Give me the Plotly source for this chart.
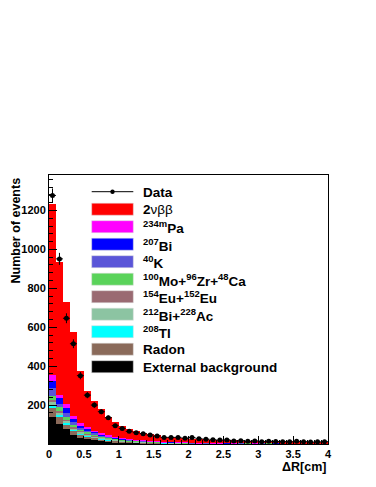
import numpy as np
import plotly.graph_objects as go

# Delta R bins, width 0.1 cm, 0..4 cm
bin_width = 0.1
dr_centers = np.round(np.arange(40) * bin_width + bin_width / 2, 3)

data_counts = [1277, 951, 646, 515, 351, 251, 200, 166, 135, 94,
               80, 65, 58, 53, 46, 41, 34, 34, 34, 30,
               33, 27, 25, 22, 20, 21, 15, 17, 14, 16,
               12, 14, 13, 12, 11, 14, 12, 10, 11, 12]

twonu = [876, 681, 527, 431, 265, 186, 152, 123, 92, 76,
         60, 53, 45, 39, 35, 30, 27, 23, 23, 21,
         21, 20, 18, 17, 16, 16, 15, 14, 13, 13,
         12, 12, 11, 10, 11, 10, 10, 10, 10, 8]
pa234m = [34, 20, 17, 17, 17, 8, 6, 5, 4, 3, 3, 3, 2, 2, 1, 1, 1, 1, 1, 1,
          1, 1, 0, 1, 1, 0, 1, 0, 0, 1, 0, 0, 0, 1, 0, 1, 0, 0, 0, 1]
bi207 = [37, 26, 25, 12, 9, 7, 5, 4, 3, 2, 2, 1, 1, 1, 1, 1, 0, 1, 0, 1,
         0, 0, 0, 0, 0, 1, 0, 0, 0, 0, 0, 0, 1, 0, 0, 0, 0, 0, 0, 0]
k40 = [40, 20, 20, 15, 8, 7, 6, 5, 4, 3, 3, 2, 2, 1, 1, 1, 1, 1, 1, 1,
       1, 0, 1, 0, 1, 0, 0, 1, 0, 0, 1, 0, 0, 0, 1, 0, 0, 0, 0, 0]
mo_zr_ca = [20, 18, 16, 14, 11, 10, 8, 7, 6, 5, 4, 4, 3, 3, 2, 2, 2, 2, 1, 1,
            1, 1, 1, 1, 1, 0, 1, 0, 1, 1, 0, 1, 0, 1, 0, 1, 0, 1, 0, 1]
eu154 = [7, 6, 5, 4, 3, 3, 2, 2, 2, 1, 1, 1, 1, 1, 1, 1, 0, 1, 0, 0,
         0, 0, 1, 0, 0, 0, 0, 1, 0, 0, 0, 0, 0, 1, 0, 0, 0, 0, 1, 0]
bi212_ac228 = [26, 17, 13, 10, 8, 7, 6, 5, 4, 3, 3, 2, 2, 2, 1, 1, 1, 1, 1, 1,
               1, 1, 0, 1, 0, 1, 0, 0, 1, 0, 0, 1, 0, 0, 0, 0, 1, 0, 0, 0]
tl208 = [8, 7, 6, 5, 4, 3, 3, 2, 2, 2, 1, 1, 1, 1, 1, 1, 1, 0, 0, 0,
         0, 0, 0, 0, 0, 0, 0, 0, 0, 0, 0, 0, 0, 0, 0, 0, 0, 0, 0, 0]
radon = [45, 35, 26, 22, 17, 14, 11, 9, 7, 6, 5, 4, 3, 3, 3, 2, 2, 2, 2, 2,
         1, 1, 1, 1, 1, 1, 1, 1, 1, 0, 1, 0, 1, 0, 1, 0, 1, 0, 1, 0]
external = [140, 105, 75, 45, 33, 27, 21, 16, 13, 10, 8, 7, 6, 5, 4, 4, 3, 3, 3, 2,
            2, 2, 2, 1, 1, 1, 1, 1, 1, 1, 1, 1, 1, 1, 0, 1, 0, 1, 0, 1]

# legend order (top to bottom); stack order is the reverse
components = [
    ("2<span style='font-weight:normal'>νββ</span>", twonu, "#ff0000"),
    ("<sup>234m</sup>Pa", pa234m, "#ff00ff"),
    ("<sup>207</sup>Bi", bi207, "#0000ff"),
    ("<sup>40</sup>K", k40, "#5a55d8"),
    ("<sup>100</sup>Mo+<sup>96</sup>Zr+<sup>48</sup>Ca", mo_zr_ca, "#5ad35a"),
    ("<sup>154</sup>Eu+<sup>152</sup>Eu", eu154, "#9a6a72"),
    ("<sup>212</sup>Bi+<sup>228</sup>Ac", bi212_ac228, "#8cc4a2"),
    ("<sup>208</sup>Tl", tl208, "#00ffff"),
    ("Radon", radon, "#8a6a5a"),
    ("External background", external, "#000000"),
]

FONT = "Liberation Sans"
OFF = 8  # page body margin
W, H = 376 - 2 * OFF, 487 - 2 * OFF
# plot frame in screen pixels: x 49..328, y 175..444
L, T = 49 - OFF, 175 - OFF
R, B = W - (328 - OFF), H - (444 - OFF)
pw, ph = W - L - R, H - T - B


def px_x(px):
    return (px - OFF - L) / pw


def px_y(py):
    return (H - B - (py - OFF)) / ph


fig = go.Figure()
for name, vals, color in reversed(components):
    fig.add_trace(go.Bar(
        x=dr_centers, y=vals, width=bin_width, name=name,
        marker=dict(color=color, line=dict(width=0)),
        showlegend=False,
    ))

fig.add_trace(go.Scatter(
    x=dr_centers, y=data_counts, mode="markers", name="Data",
    marker=dict(color="black", size=5),
    error_y=dict(type="data", array=np.sqrt(data_counts), color="black",
                 thickness=1, width=0),
    error_x=dict(type="constant", value=bin_width / 2, color="black",
                 thickness=1, width=0),
    showlegend=False,
))

# hand-drawn ROOT style legend
shapes = []
annotations = []
entry_y0, step = 191.7, 17.5
sx0, sx1, tx = 91.7, 133.3, 141.0
labels = ["Data"] + [c[0] for c in components]
for i, lab in enumerate(labels):
    cy = entry_y0 + i * step
    if i == 0:
        shapes.append(dict(type="line", xref="paper", yref="paper",
                           x0=px_x(sx0), x1=px_x(sx1), y0=px_y(cy), y1=px_y(cy),
                           line=dict(color="black", width=1)))
        shapes.append(dict(type="circle", xref="paper", yref="paper",
                           x0=px_x((sx0 + sx1) / 2 - 2.2), x1=px_x((sx0 + sx1) / 2 + 2.2),
                           y0=px_y(cy - 2.2), y1=px_y(cy + 2.2),
                           fillcolor="black", line=dict(width=0)))
    else:
        shapes.append(dict(type="rect", xref="paper", yref="paper",
                           x0=px_x(sx0), x1=px_x(sx1),
                           y0=px_y(cy + 6), y1=px_y(cy - 6),
                           fillcolor=components[i - 1][2],
                           line=dict(color="#dddddd", width=0.5)))
    annotations.append(dict(text=lab, xref="paper", yref="paper",
                            x=px_x(tx), y=px_y(cy + 0.5), xanchor="left",
                            yanchor="middle", showarrow=False,
                            font=dict(family=FONT, size=13.5, color="black",
                                      weight="bold")))

annotations.append(dict(text="Number of events", textangle=-90,
                        xref="paper", yref="paper", x=px_x(15.5), y=px_y(176),
                        xanchor="center", yanchor="top", showarrow=False,
                        font=dict(family=FONT, size=12.5, color="black",
                                  weight="bold")))
annotations.append(dict(text="ΔR[cm]", xref="paper", yref="paper",
                        x=px_x(328), y=px_y(467), xanchor="right",
                        yanchor="middle", showarrow=False,
                        font=dict(family=FONT, size=12.5, color="black",
                                  weight="bold")))

axis_common = dict(
    showline=True, linecolor="black", linewidth=1, mirror=True,
    ticks="inside", ticklen=8, tickcolor="black", tickwidth=1,
    showgrid=False, zeroline=False,
    tickfont=dict(family=FONT, size=11, color="black", weight="bold"),
)

fig.update_layout(
    width=W, height=H,
    margin=dict(l=L, r=R, t=T, b=B),
    paper_bgcolor="white", plot_bgcolor="white",
    barmode="stack", bargap=0,
    showlegend=False,
    shapes=shapes, annotations=annotations,
    xaxis=dict(range=[0, 4], tickvals=[0, 0.5, 1, 1.5, 2, 2.5, 3, 3.5, 4],
               ticktext=["0", "0.5", "1", "1.5", "2", "2.5", "3", "3.5", "4"],
               minor=dict(dtick=0.1, ticks="inside", ticklen=4,
                          tickcolor="black", tick0=0),
               **axis_common),
    yaxis=dict(range=[0, 1382], tickvals=[200, 400, 600, 800, 1000, 1200],
               minor=dict(dtick=40, ticks="inside", ticklen=4,
                          tickcolor="black", tick0=0),
               **axis_common),
)

fig.write_html("out.html")
